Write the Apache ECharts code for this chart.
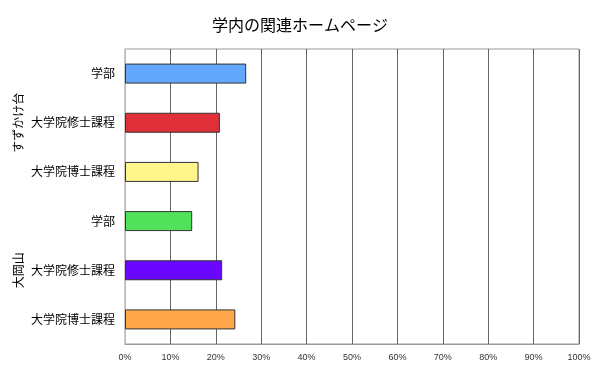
<!DOCTYPE html>
<html><head><meta charset="utf-8">
<script src="https://cdn.jsdelivr.net/npm/echarts@6/dist/echarts.min.js"></script>
<style>html,body{margin:0;padding:0;background:#fff}#c{width:600px;height:374px}</style>
</head><body><div id="c"></div>
<script>
var title = '学内の関連ホームページ';
var categories = ['学部', '大学院修士課程', '大学院博士課程', '学部', '大学院修士課程', '大学院博士課程'];
var values = [26.7, 20.9, 16.2, 14.8, 21.4, 24.3];
var barColors = ['#62a8fc', '#e0303a', '#fff68c', '#4fe25a', '#6a08ff', '#ffa84a'];
var groups = ['すずかけ台', '大岡山'];
var groupCenterIndex = [1, 4];
var xTicks = [0, 10, 20, 30, 40, 50, 60, 70, 80, 90, 100];

var font = '"Noto Sans CJK JP", "Noto Sans", sans-serif';
var chart = echarts.init(document.getElementById('c'), null, {renderer: 'canvas'});
var option = {
  animation: false,
  backgroundColor: '#fff',
  title: {text: title, left: 'center', top: 12,
    textStyle: {fontSize: 16, fontWeight: 'normal', color: '#000', fontFamily: font}},
  grid: {left: 125, right: 21, top: 49, bottom: 30, show: true, borderColor: '#999', borderWidth: 1},
  xAxis: {type: 'value', min: xTicks[0], max: xTicks[xTicks.length - 1], interval: 10,
    axisLine: {show: true, lineStyle: {color: '#999'}},
    axisTick: {show: false},
    splitLine: {show: true, lineStyle: {color: '#666', width: 1}},
    axisLabel: {formatter: '{value}%', fontSize: 9, color: '#333', margin: 9, fontFamily: 'Liberation Sans, Arial, sans-serif'}},
  yAxis: {type: 'category', inverse: true, data: categories.map(function(c, i){return i + ':' + c;}),
    axisLine: {show: true, lineStyle: {color: '#bbb'}},
    axisTick: {show: false},
    splitLine: {show: false},
    axisLabel: {formatter: function(v, i){return categories[i];}, fontSize: 12, color: '#000', margin: 10, fontFamily: font}},
  series: [{type: 'bar', barWidth: 20,
    data: values.map(function(v, i){return {value: v, itemStyle: {color: barColors[i]}};}),
    itemStyle: {borderColor: '#333', borderWidth: 1}}]
};
chart.setOption(option);
var g = groups.map(function(name, k){
  var p = chart.convertToPixel({yAxisIndex: 0}, groupCenterIndex[k] + ':' + categories[groupCenterIndex[k]]);
  return {type: 'text', x: 18, y: p, rotation: Math.PI / 2,
    style: {text: name, fontSize: 12, fill: '#000', fontFamily: font, align: 'center', verticalAlign: 'middle'}};
});
chart.setOption({graphic: g});
</script></body></html>
